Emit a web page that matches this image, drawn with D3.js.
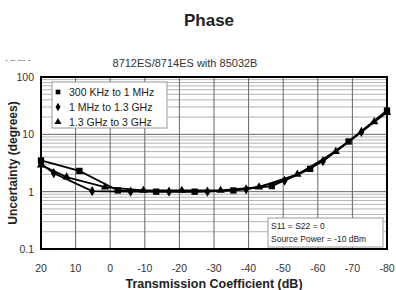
<!DOCTYPE html>
<html>
<head>
<meta charset="utf-8">
<script src="https://cdn.jsdelivr.net/npm/d3@7"></script>
<style>
  body { margin: 0; background: #fff; }
  svg { display: block; font-family: "Liberation Sans", Arial, sans-serif; }
</style>
</head>
<body>
<div id="chart"></div>
<script>
// ---- data ----
const xTicks = [20, 10, 0, -10, -20, -30, -40, -50, -60, -70, -80];
const yTicks = [0.1, 1, 10, 100];
const yTickLabels = ["0.1", "1", "10", "100"];

const sqDb  = [20, 8.9, -2.2, -13.3, -24.4, -35.6, -46.7, -57.8, -68.9, -80];
const sqVal = [3.5, 2.3, 1.05, 1.0, 1.0, 1.05, 1.25, 2.5, 7.5, 26];

const diDb  = [20, 16.3, 5.2, -5.9, -17, -28.1, -39.3, -50.4, -61.5, -72.6, -80];
const diVal = [3.1, 2.1, 1.02, 1.0, 1.0, 1.0, 1.1, 1.55, 3.4, 11, 25];

const trDb  = [20, 12.6, 1.5, -9.6, -20.7, -31.9, -43, -54.1, -65.2, -76.3, -80];
const trVal = [2.9, 1.8, 1.2, 1.05, 1.05, 1.05, 1.2, 2.0, 5.0, 16.5, 24];

const seriesNames = ["300 KHz to 1 MHz", "1 MHz to 1.3 GHz", "1.3 GHz to 3 GHz"];
const seriesShapes = [d3.symbolSquare, d3.symbolDiamond, d3.symbolTriangle];

const series = [
  { name: seriesNames[0], shape: seriesShapes[0], pts: sqDb.map((d, i) => ({ x: d, y: sqVal[i] })) },
  { name: seriesNames[1], shape: seriesShapes[1], pts: diDb.map((d, i) => ({ x: d, y: diVal[i] })) },
  { name: seriesNames[2], shape: seriesShapes[2], pts: trDb.map((d, i) => ({ x: d, y: trVal[i] })) }
];

// ---- setup ----
const W = 396, H = 290;
const plot = { left: 41, right: 387, top: 77, bottom: 249 };

const svg = d3.select("#chart").append("svg")
  .attr("width", W).attr("height", H);

const x = d3.scaleLinear().domain([20, -80]).range([plot.left, plot.right]);
const y = d3.scaleLog().domain([0.1, 100]).range([plot.bottom, plot.top]);

// titles
svg.append("text")
  .attr("x", 209).attr("y", 26)
  .attr("text-anchor", "middle")
  .style("font-family", "'Liberation Sans Narrow', 'Arial Narrow', sans-serif")
  .style("font-weight", "bold")
  .style("font-size", "17px")
  .attr("fill", "#222")
  .text("Phase");

svg.append("text")
  .attr("x", 5).attr("y", 62)
  .style("font-size", "8px")
  .attr("fill", "#444")
  .text("- -- --- -");

svg.append("text")
  .attr("x", 185).attr("y", 67)
  .attr("text-anchor", "middle")
  .style("font-size", "11px")
  .attr("fill", "#333")
  .text("8712ES/8714ES with 85032B");

// grid: minor log lines
const minor = [];
[0.1, 1, 10].forEach(dec => {
  for (let k = 2; k <= 9; k++) minor.push(dec * k);
});

svg.append("g").selectAll("line")
  .data(minor)
  .enter().append("line")
  .attr("x1", plot.left).attr("x2", plot.right)
  .attr("y1", d => y(d)).attr("y2", d => y(d))
  .attr("stroke", "#b4b4b4").attr("stroke-width", 1);

svg.append("g").selectAll("line")
  .data(yTicks)
  .enter().append("line")
  .attr("x1", plot.left).attr("x2", plot.right)
  .attr("y1", d => y(d)).attr("y2", d => y(d))
  .attr("stroke", "#666").attr("stroke-width", 1);

svg.append("g").selectAll("line")
  .data(xTicks)
  .enter().append("line")
  .attr("x1", d => x(d)).attr("x2", d => x(d))
  .attr("y1", plot.top).attr("y2", plot.bottom)
  .attr("stroke", "#666").attr("stroke-width", 1);

// border
svg.append("rect")
  .attr("x", plot.left).attr("y", plot.top)
  .attr("width", plot.right - plot.left)
  .attr("height", plot.bottom - plot.top)
  .attr("fill", "none").attr("stroke", "#000").attr("stroke-width", 2);

// tick labels
svg.append("g").selectAll("text")
  .data(yTicks)
  .enter().append("text")
  .attr("x", 34).attr("y", d => y(d) + 4)
  .attr("text-anchor", "end")
  .style("font-size", "10.5px")
  .attr("fill", "#333")
  .text((d, i) => yTickLabels[i]);

svg.append("g").selectAll("text")
  .data(xTicks)
  .enter().append("text")
  .attr("x", d => x(d)).attr("y", 272)
  .attr("text-anchor", "middle")
  .style("font-size", "10.5px")
  .attr("fill", "#333")
  .text(d => d);

// axis titles
svg.append("text")
  .attr("x", 214).attr("y", 288)
  .attr("text-anchor", "middle")
  .style("font-weight", "bold")
  .style("font-size", "12.5px")
  .attr("fill", "#222")
  .text("Transmission Coefficient (dB)");

svg.append("text")
  .attr("transform", "translate(17,163) rotate(-90)")
  .attr("text-anchor", "middle")
  .style("font-weight", "bold")
  .style("font-size", "12px")
  .attr("fill", "#222")
  .text("Uncertainty (degrees)");

// series
const line = d3.line().x(d => x(d.x)).y(d => y(d.y));

series.forEach(s => {
  svg.append("path")
    .datum(s.pts)
    .attr("d", line)
    .attr("fill", "none")
    .attr("stroke", "#000")
    .attr("stroke-width", 1.8);

  svg.append("g").selectAll("path")
    .data(s.pts)
    .enter().append("path")
    .attr("transform", d => `translate(${x(d.x)},${y(d.y)})`)
    .attr("d", d3.symbol().type(s.shape).size(s.shape === d3.symbolSquare ? 40 : 30))
    .attr("fill", "#000");
});

// legend
const leg = svg.append("g");
leg.append("rect")
  .attr("x", 52).attr("y", 82).attr("width", 115).attr("height", 46)
  .attr("fill", "#fff").attr("stroke", "#999");

series.forEach((s, i) => {
  const ly = 92 + i * 15;
  leg.append("path")
    .attr("transform", `translate(58,${ly})`)
    .attr("d", d3.symbol().type(s.shape).size(22))
    .attr("fill", "#000");
  leg.append("text")
    .attr("x", 69).attr("y", ly + 4)
    .style("font-size", "10.5px")
    .attr("fill", "#222")
    .text(s.name);
});

// annotation box
const ann = svg.append("g");
ann.append("rect")
  .attr("x", 268).attr("y", 218).attr("width", 115).attr("height", 29)
  .attr("fill", "#fff").attr("stroke", "#999");
ann.append("text")
  .attr("x", 271).attr("y", 229)
  .style("font-size", "8.5px").attr("fill", "#222")
  .text("S11 = S22 = 0");
ann.append("text")
  .attr("x", 271).attr("y", 242)
  .style("font-size", "8.5px").attr("fill", "#222")
  .text("Source Power = -10 dBm");
</script>
</body>
</html>
